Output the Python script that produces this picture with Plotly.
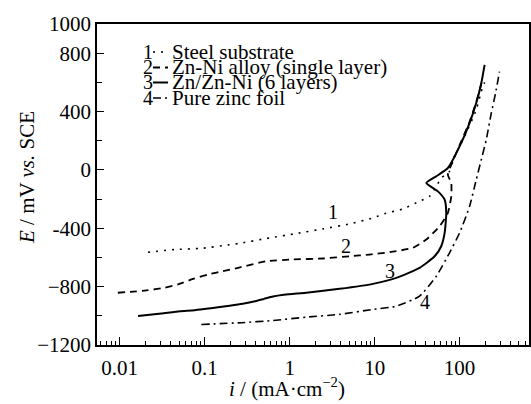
import numpy as np
import plotly.graph_objects as go

# ---------------- data ----------------
# Curve 1: Steel substrate (dotted)
i_steel = [0.0215, 0.0444, 0.093, 0.188, 0.247, 0.58, 1.2, 2.47, 5.1, 9.6, 13.1,
           21.5, 33.8, 44.4, 53.2, 60.8, 76, 83, 110, 157, 180, 197]
E_steel = [-564, -546, -537, -514, -505, -466, -436, -404, -370, -329, -300,
           -268, -215, -181, -113, -55, -10, 70, 207, 412, 537, 600]

# Curve 2: Zn-Ni alloy (single layer) (dashed)
i_znni = [0.0095, 0.0206, 0.0339, 0.0485, 0.073, 0.109, 0.164, 0.247, 0.532, 1.09,
          2.47, 5.08, 8.7, 15.0, 28.2, 40.6, 58.2, 72.8, 79.8, 79.8, 72.8, 83.2,
          100, 131, 158, 182]
E_znni = [-842, -826, -808, -785, -747, -717, -694, -671, -626, -614,
          -607, -592, -580, -564, -534, -477, -386, -295, -181, -90, -33, 60,
          170, 330, 470, 600]

# Curve 3: Zn/Zn-Ni (6 layers) (solid)
i_multi = [0.0164, 0.0309, 0.0508, 0.0762, 0.197, 0.28, 0.38, 0.5, 0.637, 0.85,
           1.2, 1.57, 3.87, 9.55, 18.0, 33.8, 50.8, 60.8, 66.7, 69.7, 66.7,
           55.6, 40.6, 53.1, 72.8, 100, 131, 157, 180, 197]
E_multi = [-1002, -984, -968, -961, -931, -918, -902, -884, -868, -856,
           -847, -842, -815, -781, -740, -671, -592, -523, -432, -295, -204,
           -147, -90, -44, 13, 161, 321, 458, 594, 720]

# Curve 4: Pure zinc foil (dash-dot)
i_zinc = [0.0914, 0.270, 0.637, 1.57, 3.87, 9.55, 18.0, 33.8, 53.1, 76.2, 100,
          131, 157, 180, 206, 236, 265, 295]
E_zinc = [-1059, -1047, -1032, -1009, -990, -956, -934, -865, -729, -568, -432,
          -250, -67, 70, 207, 389, 526, 674]

series_names = ["Steel substrate", "Zn-Ni alloy (single layer)",
                "Zn/Zn-Ni (6 layers)", "Pure zinc foil"]
series_numbers = ["1", "2", "3", "4"]

# curve number labels (i, E)
label_i = [3.2, 4.65, 15.0, 38.7]
label_E = [-286, -523, -694, -906]

x_tickvals = [0.01, 0.1, 1, 10, 100]
x_ticktext = ["0.01", "0.1", "1", "10", "100"]
x_minor = [m * 10.0 ** d for d in range(-3, 3) for m in range(2, 10)]
y_tickvals = [-1200, -800, -400, 0, 400, 800, 1000]
y_ticktext = ["\u22121200", "\u2212800", "-400", "0", "400", "800", "1000"]

# ---------------- style ----------------
FONT = "Liberation Serif"
W, H = 531, 404
L, R, T, B = 97, 2, 24, 59
PW, PH = W - L - R, H - T - B

dashes = ["2px,6px", "7px,5px", "solid", "8px,4px,2px,4px"]
widths = [1.6, 1.8, 2.0, 1.6]

def px_x(px):
    return (px - L) / PW

def px_y(py):
    return (H - B - py) / PH

fig = go.Figure()
data = [(i_steel, E_steel), (i_znni, E_znni), (i_multi, E_multi), (i_zinc, E_zinc)]
for (xs, ys), name, d, w in zip(data, series_names, dashes, widths):
    fig.add_trace(go.Scatter(x=xs, y=ys, mode="lines", name=name,
                             line=dict(color="black", width=w, dash=d, shape="spline", smoothing=0.5),
                             showlegend=False))

annotations = []
# curve number labels
for n, xi, ye in zip(series_numbers, label_i, label_E):
    annotations.append(dict(x=np.log10(xi), y=ye, xref="x", yref="y", text=n,
                            showarrow=False, font=dict(family=FONT, size=20, color="black")))

# manual legend
leg_rows = [52, 67.5, 82.5, 98]
shapes = []
for n, name, d, w, py in zip(series_numbers, series_names, dashes, widths, leg_rows):
    annotations.append(dict(x=px_x(148), y=px_y(py), xref="paper", yref="paper", text=n,
                            showarrow=False, xanchor="center", yanchor="middle",
                            font=dict(family=FONT, size=20, color="black")))
    shapes.append(dict(type="line", xref="paper", yref="paper",
                       x0=px_x(153), x1=px_x(168), y0=px_y(py), y1=px_y(py),
                       line=dict(color="black", width=w, dash=d)))
    annotations.append(dict(x=px_x(170), y=px_y(py), xref="paper", yref="paper", text=name,
                            showarrow=False, xanchor="left", yanchor="middle",
                            font=dict(family=FONT, size=21, color="black")))

# axis titles
annotations.append(dict(x=px_x(27), y=px_y(178), xref="paper", yref="paper",
                        text="<i>E</i> / mV <i>vs.</i> SCE", textangle=-90, showarrow=False,
                        xanchor="center", yanchor="middle",
                        font=dict(family=FONT, size=21, color="black")))
annotations.append(dict(x=px_x(287), y=px_y(388), xref="paper", yref="paper",
                        text="<i>i</i> / (mA\u00b7cm<sup>\u22122</sup>)", showarrow=False,
                        xanchor="center", yanchor="middle",
                        font=dict(family=FONT, size=21, color="black")))

fig.update_layout(
    width=W, height=H,
    margin=dict(l=L, r=R, t=T, b=B, pad=0, autoexpand=False),
    paper_bgcolor="white", plot_bgcolor="white",
    font=dict(family=FONT, size=21, color="black"),
    annotations=annotations, shapes=shapes,
    showlegend=False,
)
fig.update_xaxes(type="log", range=[np.log10(0.0054), np.log10(656)],
                 tickvals=x_tickvals, ticktext=x_ticktext,
                 ticks="inside", ticklen=8, tickwidth=1.2, tickcolor="black",
                 ticklabelstandoff=3,
                 minor=dict(tickvals=x_minor, ticks="inside", ticklen=4, tickwidth=1, tickcolor="black"),
                 showline=True, linecolor="black", linewidth=1.5, mirror=True,
                 showgrid=False, zeroline=False,
                 tickfont=dict(family=FONT, size=21, color="black"))
fig.update_yaxes(range=[-1200, 1000], tickvals=y_tickvals, ticktext=y_ticktext,
                 ticks="inside", ticklen=7, tickwidth=1.2, tickcolor="black",
                 minor=dict(dtick=200, ticks="inside", ticklen=5, tickwidth=1, tickcolor="black"),
                 showline=True, linecolor="black", linewidth=1.5, mirror=True,
                 showgrid=False, zeroline=False,
                 tickfont=dict(family=FONT, size=21, color="black"))

fig.write_html("out.html", config={"displayModeBar": False},
               post_script="document.body.style.margin='0';document.body.style.padding='0';")
